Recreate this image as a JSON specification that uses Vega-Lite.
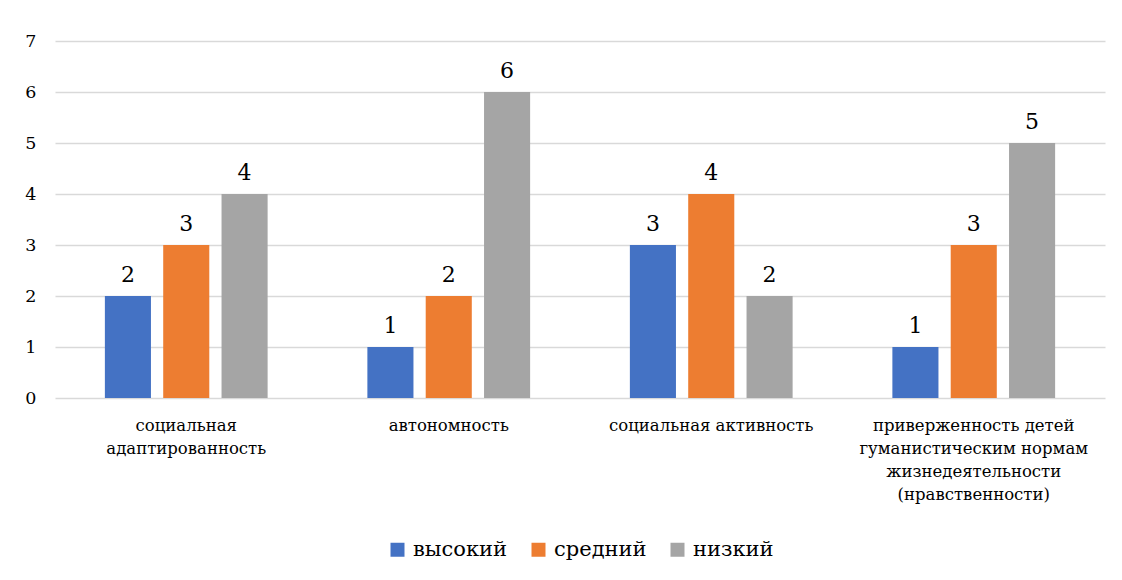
{
  "$schema": "https://vega.github.io/schema/vega-lite/v6.json",
  "autosize": {"type": "none"},
  "width": 1050,
  "height": 357,
  "padding": {"left": 55, "top": 41, "right": 17, "bottom": 182},
  "background": "white",
  "config": {"view": {"stroke": null}, "font": "DejaVu Serif"},
  "data": {
    "values": [
      {"cat": "социальная адаптированность", "level": "высокий", "value": 2},
      {"cat": "социальная адаптированность", "level": "средний", "value": 3},
      {"cat": "социальная адаптированность", "level": "низкий", "value": 4},
      {"cat": "автономность", "level": "высокий", "value": 1},
      {"cat": "автономность", "level": "средний", "value": 2},
      {"cat": "автономность", "level": "низкий", "value": 6},
      {"cat": "социальная активность", "level": "высокий", "value": 3},
      {"cat": "социальная активность", "level": "средний", "value": 4},
      {"cat": "социальная активность", "level": "низкий", "value": 2},
      {"cat": "приверженность детей гуманистическим нормам жизнедеятельности (нравственности)", "level": "высокий", "value": 1},
      {"cat": "приверженность детей гуманистическим нормам жизнедеятельности (нравственности)", "level": "средний", "value": 3},
      {"cat": "приверженность детей гуманистическим нормам жизнедеятельности (нравственности)", "level": "низкий", "value": 5}
    ]
  },
  "encoding": {
    "x": {
      "field": "cat", "type": "nominal", "sort": null, "title": null,
      "scale": {"paddingInner": 0.38, "paddingOuter": 0.19},
      "axis": {
        "labelAngle": 0, "domain": false, "ticks": false,
        "labelFont": "DejaVu Serif", "labelFontSize": 16.5, "labelColor": "#000000",
        "labelPadding": 19, "labelLineHeight": 23, "labelLimit": 300,
        "labelExpr": "datum.value == 'социальная адаптированность' ? ['социальная', 'адаптированность'] : datum.value == 'приверженность детей гуманистическим нормам жизнедеятельности (нравственности)' ? ['приверженность детей', 'гуманистическим нормам', 'жизнедеятельности', '(нравственности)'] : datum.label"
      }
    },
    "xOffset": {
      "field": "level", "type": "nominal", "sort": ["высокий", "средний", "низкий"],
      "scale": {"paddingInner": 0.21, "paddingOuter": 0}
    },
    "y": {
      "field": "value", "type": "quantitative", "title": null,
      "scale": {"domain": [0, 7], "nice": false},
      "axis": {
        "values": [0, 1, 2, 3, 4, 5, 6, 7], "domain": false, "ticks": false,
        "labelFont": "DejaVu Serif", "labelFontSize": 17.5, "labelColor": "#000000",
        "labelPadding": 19, "gridColor": "#d9d9d9", "gridWidth": 1.3
      }
    }
  },
  "layer": [
    {
      "mark": {"type": "bar"},
      "encoding": {
        "color": {
          "field": "level", "type": "nominal", "sort": ["высокий", "средний", "низкий"],
          "scale": {"domain": ["высокий", "средний", "низкий"], "range": ["#4472C4", "#ED7D31", "#A5A5A5"]},
          "legend": {
            "title": null, "orient": "none", "direction": "horizontal",
            "legendX": 332, "legendY": 498,
            "symbolType": "square", "symbolSize": 196, "symbolStrokeWidth": 0,
            "labelFont": "DejaVu Serif", "labelFontSize": 21, "labelColor": "#000000",
            "labelOffset": 5, "columnPadding": 20, "labelLimit": 200
          }
        }
      }
    },
    {
      "mark": {"type": "text", "baseline": "bottom", "dy": -9, "font": "DejaVu Serif", "fontSize": 22, "color": "#000000"},
      "encoding": {"text": {"field": "value", "type": "quantitative"}}
    }
  ]
}
